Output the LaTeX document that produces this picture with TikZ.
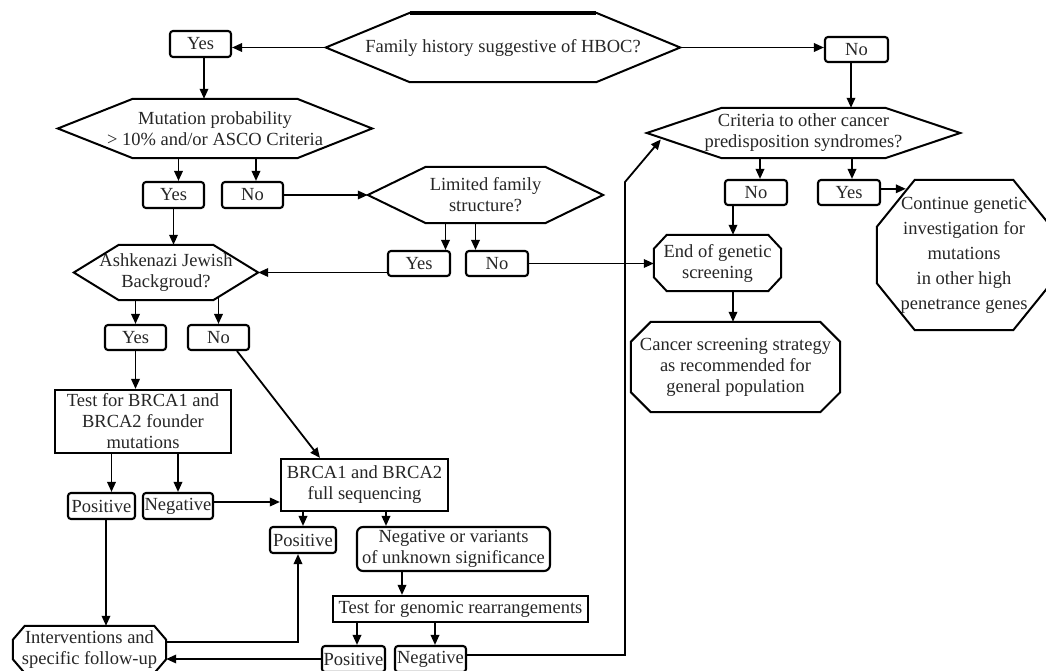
\documentclass[tikz,border=0pt]{standalone}
\usepackage{fontspec}
\setmainfont{Liberation Serif}
\usetikzlibrary{arrows.meta,calc}
\newcommand\myhex[2]{\draw[shp] (#1.west) -- ($(#1.north west)+(#2,0)$) -- ($(#1.north east)+(-#2,0)$) -- (#1.east) -- ($(#1.south east)+(-#2,0)$) -- ($(#1.south west)+(#2,0)$) -- cycle;}
\newcommand\myoct[3]{\draw[shp] ($(#1.north west)+(#2,0)$) -- ($(#1.north east)+(-#2,0)$) -- ($(#1.north east)+(0,#3)$) -- ($(#1.south east)+(0,-#3)$) -- ($(#1.south east)+(-#2,0)$) -- ($(#1.south west)+(#2,0)$) -- ($(#1.south west)+(0,-#3)$) -- ($(#1.north west)+(0,#3)$) -- cycle;}
\begin{document}
\begin{tikzpicture}[x=1pt,y=-1pt,
  txt/.style={inner sep=0pt, align=center, text=black!85, font=\fontsize{18.5pt}{21pt}\selectfont},
  bx/.style={txt, draw=black, line width=2.1pt, rounded corners=3pt},
  sq/.style={txt, draw=black, line width=2.2pt},
  hx/.style={txt},
  shp/.style={draw=black, line width=2pt, line join=miter},
  ar/.style={draw=black, line width=1.8pt, -{Triangle[length=10pt,width=8.5pt]}},
  ln/.style={draw=black, line width=1.8pt}]
\clip (0,0) rectangle (1046,671);
\fill[white] (0,0) rectangle (1046,671);
% nodes
\node[hx, minimum width=354pt, minimum height=69pt] (fam) at (503,47.5) {Family history suggestive of HBOC?};
\node[bx, minimum width=61pt, minimum height=26pt] (yes1) at (200.5,44) {Yes};
\node[bx, minimum width=63pt, minimum height=25pt] (no1) at (856.5,49.5) {No};
\node[hx, minimum width=314pt, minimum height=59pt] (mut) at (215,128.5) {Mutation probability\\> 10\% and/or ASCO Criteria};
\node[bx, minimum width=61pt, minimum height=26pt] (yes2) at (173.5,195) {Yes};
\node[bx, minimum width=61pt, minimum height=26pt] (no2) at (252.5,195) {No};
\node[hx, minimum width=235pt, minimum height=56pt] (lim) at (485.5,195) {Limited family\\structure?};
\node[bx, minimum width=62pt, minimum height=25pt] (lyes) at (419,263.5) {Yes};
\node[bx, minimum width=62pt, minimum height=25pt] (lno) at (497,263.5) {No};
\node[hx, minimum width=184pt, minimum height=55pt] (ashk) at (166,272.5) {Ashkenazi Jewish\\Backgroud?};
\node[bx, minimum width=61pt, minimum height=25pt] (ayes) at (135.5,337.5) {Yes};
\node[bx, minimum width=61pt, minimum height=25pt] (ano) at (218.5,337.5) {No};
\node[sq, minimum width=176pt, minimum height=63pt] (tbrca) at (143,421.5) {Test for BRCA1 and\\BRCA2 founder\\mutations};
\node[bx, minimum width=67pt, minimum height=26pt] (pos1) at (101.5,506) {Positive};
\node[bx, minimum width=70pt, minimum height=26pt] (neg1) at (178,506) {Negative};
\node[sq, minimum width=167pt, minimum height=52pt] (bfull) at (364.5,485) {BRCA1 and BRCA2\\full sequencing};
\node[bx, minimum width=66pt, minimum height=26pt] (posm) at (303,540) {Positive};
\node[bx, rounded corners=6pt, minimum width=193pt, minimum height=44pt] (negv) at (453.5,549) {Negative or variants\\of unknown significance};
\node[sq, minimum width=255pt, minimum height=26pt] (tgen) at (460.5,609) {Test for genomic rearrangements};
\node[bx, minimum width=63pt, minimum height=26pt] (bpos) at (353.5,659) {Positive};
\node[bx, minimum width=71pt, minimum height=26pt] (bneg) at (430.5,659) {Negative};
\node[hx, minimum width=153pt, minimum height=47pt] (interv) at (89.5,649.5) {Interventions and\\specific follow-up};
\node[hx, minimum width=313pt, minimum height=50pt] (crit) at (803.5,133) {Criteria to other cancer\\predisposition syndromes?};
\node[bx, minimum width=62pt, minimum height=25pt] (cno) at (756,192.5) {No};
\node[bx, minimum width=62pt, minimum height=25pt] (cyes) at (849,192.5) {Yes};
\node[hx, minimum width=174pt, minimum height=150pt, font=\fontsize{18.5pt}{25pt}\selectfont] (cont) at (964,255) {Continue genetic\\investigation for\\mutations\\in other high\\penetrance genes};
\node[hx, minimum width=127pt, minimum height=56pt] (endg) at (717.5,263) {End of genetic\\screening};
\node[hx, minimum width=209pt, minimum height=90pt] (canc) at (735.5,367) {Cancer screening strategy\\as recommended for\\general population};
% shapes
\myhex{fam}{84}
\draw[line width=3.8pt] ($(fam.north west)+(84,0)$) -- ($(fam.north east)+(-84,0)$);
\myhex{mut}{75}
\myhex{lim}{58}
\myhex{ashk}{45}
\myhex{crit}{75}
\myoct{cont}{38}{47}
\myoct{endg}{13}{14}
\myoct{canc}{20}{20}
\myoct{interv}{12}{14}
% connectors
\draw[ar] (fam.west) -- (fam.west -| yes1.east);
\draw[ar] (fam.east) -- (fam.east -| no1.west);
\coordinate (y1) at ($(yes1.south)+(3.5,0)$);
\draw[ar] (y1) -- (y1 |- mut.north);
\coordinate (m1) at ($(yes2.north)+(5,0)$);
\draw[ar] (m1 |- mut.south) -- (m1);
\coordinate (m2) at ($(no2.north)+(3.5,0)$);
\draw[ar] (m2 |- mut.south) -- (m2);
\draw[ar] (no2.east) -- (no2.east -| lim.west);
\draw[ar] (yes2.south) -- (yes2.south |- ashk.north);
\coordinate (l1) at ($(lim.south)+(-40,0)$);
\coordinate (l2) at ($(lim.south)+(-10,0)$);
\draw[ar] (l1) -- (l1 |- lyes.north);
\draw[ar] (l2) -- (l2 |- lno.north);
\draw[ar] (ashk.east -| lyes.west) -- (ashk.east);
\draw[ar] (lno.east) -- (lno.east -| endg.west);
\draw[ar] (ashk.south -| ayes.north) -- (ayes.north);
\coordinate (a2) at ($(ashk.south -| ano.north)+(0,-3)$);
\draw[ar] (a2) -- (ano.north);
\draw[ar] (ayes.south) -- (ayes.south |- tbrca.north);
\draw[ar] ($(ano.south)+(18.5,0)$) -- ($(bfull.north)+(-44.5,0)$);
\coordinate (t1) at ($(pos1.north)+(10,0)$);
\draw[ar] (t1 |- tbrca.south) -- (t1);
\draw[ar] (tbrca.south -| neg1.north) -- (neg1.north);
\draw[ar] ($(neg1.east)+(0,-4)$) -- ($(neg1.east -| bfull.west)+(0,-4)$);
\coordinate (p1) at ($(pos1.south)+(4.5,0)$);
\draw[ar] (p1) -- (p1 |- interv.north);
\coordinate (i1) at ($(posm.south)+(-5,0)$);
\draw[ar] ($(interv.east)+(0,-7.5)$) -| (i1);
\draw[ar] (bfull.south -| posm.north) -- (posm.north);
\coordinate (n1) at ($(negv.north)+(-67.5,0)$);
\draw[ar] (n1 |- bfull.south) -- (n1);
\coordinate (n2) at ($(negv.south)+(-51.5,0)$);
\draw[ar] (n2) -- (n2 |- tgen.north);
\coordinate (g1) at ($(bpos.north)+(3.5,0)$);
\draw[ar] (g1 |- tgen.south) -- (g1);
\coordinate (g2) at ($(bneg.north)+(4.5,0)$);
\draw[ar] (g2 |- tgen.south) -- (g2);
\draw[ar] (bpos.west) -- (bpos.west -| interv.east);
\coordinate (v1) at (625,182);
\coordinate (v2) at ($(crit.west)+(14,6.5)$);
\draw[ar] ($(bneg.east)+(0,-4)$) -| (v1) -- (v2);
\coordinate (c0) at ($(no1.south)+(-5.5,0)$);
\draw[ar] (c0) -- (c0 |- crit.north);
\coordinate (c1) at ($(cno.north)+(4,0)$);
\draw[ar] (c1 |- crit.south) -- (c1);
\coordinate (c2) at ($(cyes.north)+(3,0)$);
\draw[ar] (c2 |- crit.south) -- (c2);
\coordinate (ct) at ($(cont.north west)+(29,9)$);
\draw[ar] (ct -| cyes.east) -- (ct);
\coordinate (e1) at ($(cno.south)+(-23,0)$);
\draw[ar] (e1) -- (e1 |- endg.north);
\coordinate (e2) at ($(endg.south)+(15.5,0)$);
\draw[ar] (e2) -- (e2 |- canc.north);
\end{tikzpicture}
\end{document}
